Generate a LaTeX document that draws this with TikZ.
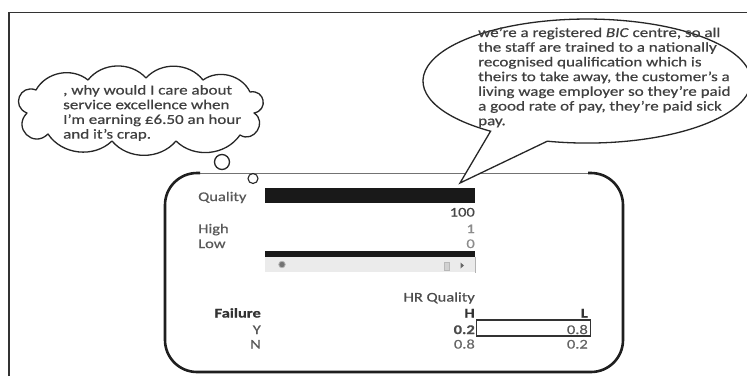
\documentclass[tikz,border=0pt]{standalone}
\usepackage{fontspec}
\setmainfont{Carlito}[FakeStretch=1.25,FakeBold=0.6]
\begin{document}
\begin{tikzpicture}[x=1pt,y=-1pt,
  ink/.style={draw=black!85, line width=1.3pt},
  puff/.style={bend left=50},
  sidepuff/.style={bend left=90, looseness=1.8},
  quote/.style={text=black!75, inner sep=0pt, align=left, anchor=base west,
    font=\fontsize{13.6}{14.7}\selectfont},
  cell/.style={text=black!65, inner sep=0pt, font=\fontsize{13.2}{15}\selectfont},
  cellr/.style={cell, anchor=base east},
  celll/.style={cell, anchor=base west},
  faint/.style={text=black!45},
  strong/.style={text=black!80, font=\fontsize{13.2}{15}\selectfont\bfseries},
]
\useasboundingbox (0,0) rectangle (747,376);
\fill[white] (0,0) rectangle (747,376);

% outer frame (left and top edges)
\draw[draw=black!80, line width=1.4pt] (9,376) -- (9,12.5) -- (747,12.5);

% rounded panel: thick sides, thin top edge
\draw[black!55, line width=0.8pt] (197,173) -- (591,173);
\draw[black!88, line width=2.6pt, rounded corners=32]
  (200,173) -- (165,173) -- (165,372) -- (623,372) -- (623,173) -- (588,173);

% thought cloud: one puff between each pair of valleys, clockwise
\draw[ink, line join=round]
  (36,90) to[puff] (88,80) to[puff] (146,78) to[puff] (203,80)
  to[puff] (250,92) to[sidepuff] (254,113)
  to[sidepuff, looseness=1.6] (240,135)
  to[puff] (176,141) to[puff] (112,141) to[puff] (48,134)
  to[sidepuff] (27,113)
  to[sidepuff] cycle;
\node[circle, ink, minimum size=15pt, inner sep=0pt] (puffa) at (222,162) {};
\node[circle, ink, line width=1.1pt, minimum size=10pt, inner sep=0pt, fill=white] (puffb) at (253,178.5) {};

% multi-line texts are placed by the baseline of their last line
\node[quote] (thinktext) at (63,138.6) {, why would I care about\\service excellence when\\I’m earning £6.50 an hour\\and it’s crap.};

% speech bubble with its tail
\coordinate (tailtip) at (460,183);
\draw[ink, fill=white] (547.3,141.2) arc[start angle=104, end angle=-234, x radius=164, y radius=62]
  -- (tailtip) -- cycle;
\node[quote] (saytext) at (478,125.2) {we’re a registered \textit{BIC} centre, so all\\the staff are trained to a nationally\\recognised qualification which is\\theirs to take away, the customer’s a\\living wage employer so they’re paid\\a good rate of pay, they’re paid sick\\pay.};

% slider block
\node[celll] (qlabel) at (198,201) {Quality};
\fill[black!90] (265,188) rectangle (475,203);
\node[cellr, text=black!72] (qval) at (475,216.5) {100};
\node[celll] (hlabel) at (198,233) {High};
\node[cellr, faint] (hval) at (475,233) {1};
\node[celll] (llabel) at (198,248) {Low};
\node[cellr, faint] (lval) at (475,248) {0};
\fill[black!90] (265,251) rectangle (475,256.5);
\fill[black!8] (265,256.5) rectangle (475,272);
\draw[black!30, line width=0.6pt] (475,256.5) -- (475,273);
\node[circle, fill=black!55, draw=black!30, line width=0.8pt, minimum size=6.5pt, inner sep=0pt] (thumb) at (282,264.5) {};
\node[rectangle, fill=black!18, draw=black!28, line width=0.5pt, minimum width=5pt, minimum height=8pt, inner sep=0pt] (stepbtn) at (447,266) {};
\fill[black!60] (460.5,262.5) -- (464,265.5) -- (460.5,268.5) -- cycle;

% probability table
\node[cellr, text=black!70] (hrq) at (475,301.5) {HR Quality};
\node[cellr, strong] (fail) at (261,317.5) {Failure};
\node[cellr, strong] (colh) at (475,317.5) {H};
\node[cellr, strong] (coll) at (588,317.5) {L};
\node[cellr] (rowy) at (261,334) {Y};
\node[cellr, strong, text=black!70] (yh) at (475,334) {0.2};
\draw[black!80, line width=1.2pt] (476.5,320) rectangle (590.5,336);
\node[cellr, text=black!65] (yl) at (588,334) {0.8};
\node[cellr] (rown) at (261,348.5) {N};
\node[cellr, text=black!60] (nh) at (475,348.5) {0.8};
\node[cellr, text=black!60] (nl) at (588,348.5) {0.2};
\end{tikzpicture}
\end{document}
